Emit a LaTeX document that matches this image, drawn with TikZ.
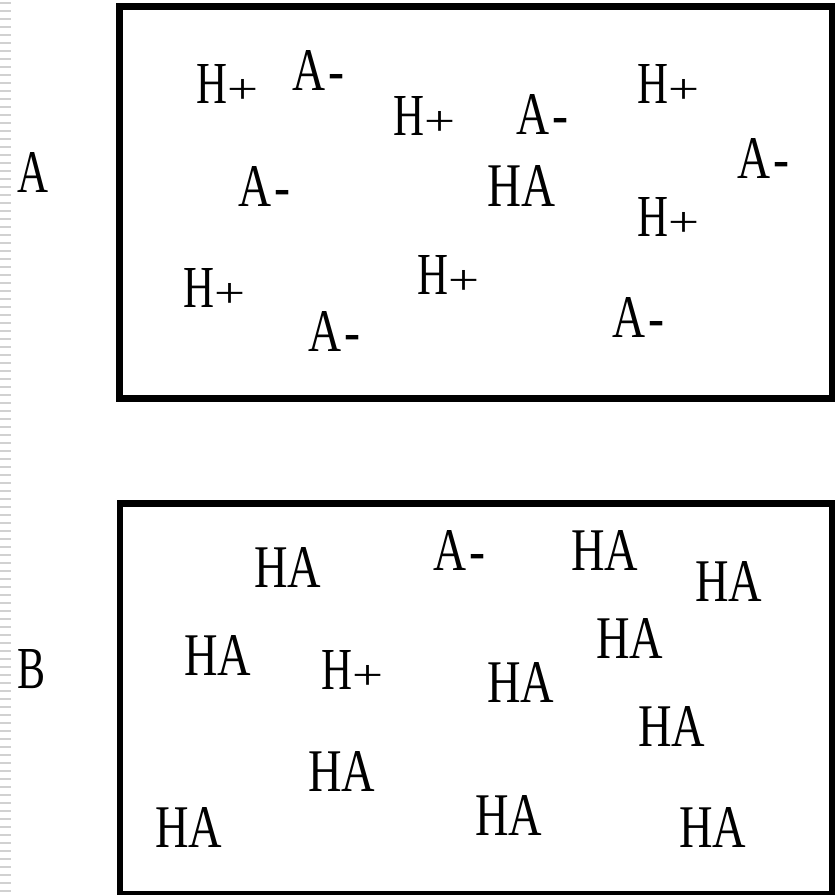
\documentclass[tikz,border=0pt]{standalone}
\usepackage{fontspec}
\setmainfont{Liberation Serif}
\usepackage{graphicx}
\newcommand\tHA{\resizebox{67pt}{40pt}{HA}}
\newcommand\tHp{\resizebox{31pt}{39pt}{H}\resizebox{31pt}{24pt}{+}}
\newcommand\tAm{\resizebox{33pt}{40pt}{A}\hspace{3pt}\resizebox{16pt}{16pt}{-}}
\begin{document}
\begin{tikzpicture}[x=1pt,y=-1pt,
  lbl/.style={anchor=base west, inner sep=0pt, outer sep=0pt},
  boxframe/.style={draw=black, line width=6.5pt},
  stripe/.style={draw=black!18, line width=1.4pt}]
\useasboundingbox (0,0) rectangle (835,895);
\fill[white] (0,0) rectangle (835,895);
% faint left-edge stripes
\foreach \k in {0,...,111} {
  \draw[stripe] (0,{3+8*\k}) -- (11,{3+8*\k});
}
% frames
\draw[boxframe] (119.5,6.5) rectangle (832,398.5);
\draw[boxframe] (120,503.5) rectangle (832,894);
% side labels
\node[lbl] (labA) at (17,192) {\resizebox{31pt}{40pt}{A}};
\node[lbl] (labB) at (17,688) {\resizebox{28pt}{39pt}{B}};
% box A
\node[lbl] (a1) at (196,103) {\tHp};
\node[lbl] (a2) at (292,90) {\tAm};
\node[lbl] (a3) at (393,135) {\tHp};
\node[lbl] (a4) at (516,134) {\tAm};
\node[lbl] (a5) at (637,103) {\tHp};
\node[lbl] (a6) at (737,178) {\tAm};
\node[lbl] (a7) at (487,206) {\resizebox{68pt}{41pt}{HA}};
\node[lbl] (a8) at (637,236) {\tHp};
\node[lbl] (a9) at (238,206) {\tAm};
\node[lbl] (a10) at (183,307) {\tHp};
\node[lbl] (a11) at (417,294) {\tHp};
\node[lbl] (a12) at (308,351) {\tAm};
\node[lbl] (a13) at (612,337) {\tAm};
% box B
\node[lbl] (b1) at (254,587) {\tHA};
\node[lbl] (b2) at (184,675) {\tHA};
\node[lbl] (b3) at (321,689) {\tHp};
\node[lbl] (b4) at (308,791) {\tHA};
\node[lbl] (b5) at (155,847) {\tHA};
\node[lbl] (b6) at (433,570) {\tAm};
\node[lbl] (b7) at (571,570) {\tHA};
\node[lbl] (b8) at (695,601) {\tHA};
\node[lbl] (b9) at (596,658) {\tHA};
\node[lbl] (b10) at (487,702) {\tHA};
\node[lbl] (b11) at (638,746) {\tHA};
\node[lbl] (b12) at (475,835) {\tHA};
\node[lbl] (b13) at (679,847) {\tHA};
\end{tikzpicture}
\end{document}
